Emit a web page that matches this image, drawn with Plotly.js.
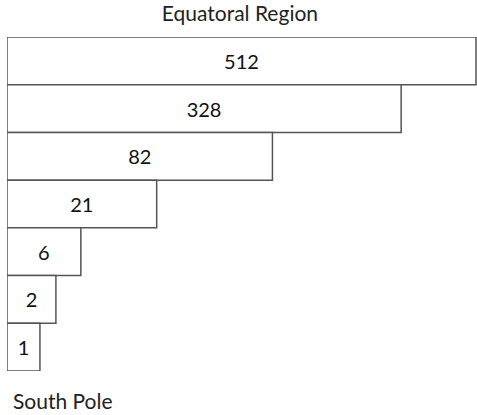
<!DOCTYPE html>
<html>
<head>
<meta charset="utf-8">
<script src="https://cdn.plot.ly/plotly-3.0.1.min.js"></script>
<style>html,body{margin:0;padding:0;background:#fff;}#chart{width:477px;height:415px;}</style>
</head>
<body>
<div id="chart"></div>
<script>
// Categories (top to bottom) and labelled values
var categories = ['Band 1', 'Band 2', 'Band 3', 'Band 4', 'Band 5', 'Band 6', 'Band 7'];
var valueLabels = [512, 328, 82, 21, 6, 2, 1];
// Drawn bar lengths (not proportional to the labels)
var barLength = [470, 395, 266, 150, 74, 49, 33];
var titleTop = 'Equatoral Region';
var titleBottom = 'South Pole';

var fontFam = 'Lato, "Open Sans", sans-serif';

var trace = {
  type: 'bar',
  orientation: 'h',
  y: categories,
  x: barLength,
  text: valueLabels.map(String),
  textposition: 'inside',
  insidetextanchor: 'middle',
  constraintext: 'none',
  textangle: 0,
  textfont: {family: fontFam, size: 20, color: '#111'},
  marker: {color: '#ffffff', line: {color: '#555555', width: 1.5}},
  hoverinfo: 'none',
  cliponaxis: false
};

var layout = {
  width: 477, height: 415,
  margin: {l: 7, r: 0, t: 37, b: 44},
  paper_bgcolor: '#fff', plot_bgcolor: '#fff',
  showlegend: false,
  bargap: 0,
  title: {text: titleTop, x: 0.503, xanchor: 'center', y: 1 - 14/415, yanchor: 'middle',
          font: {family: fontFam, size: 21, color: '#222'}},
  xaxis: {range: [0, 471], visible: false, fixedrange: true},
  yaxis: {type: 'category', autorange: 'reversed', visible: false, fixedrange: true},
  annotations: [{
    text: titleBottom, xref: 'paper', yref: 'paper', x: 0, y: 0,
    xanchor: 'left', yanchor: 'middle', xshift: 4, yshift: -29, showarrow: false,
    font: {family: fontFam, size: 21, color: '#222'}
  }]
};

Plotly.newPlot('chart', [trace], layout, {displayModeBar: false, staticPlot: true});
</script>
</body>
</html>
